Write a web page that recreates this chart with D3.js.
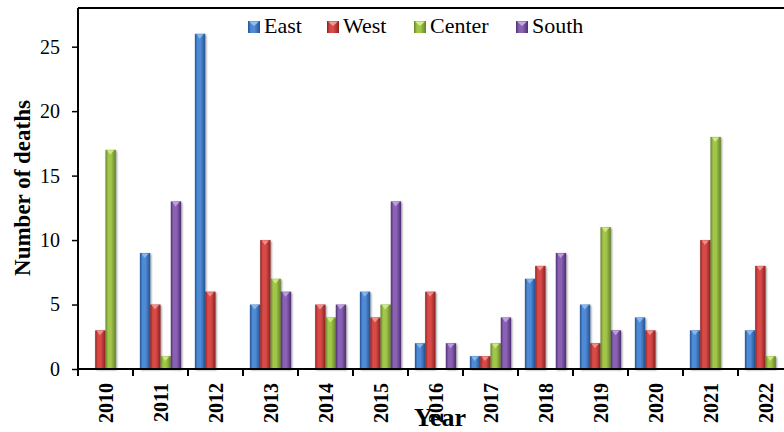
<!DOCTYPE html>
<html>
<head>
<meta charset="utf-8">
<script src="https://cdn.jsdelivr.net/npm/d3@7"></script>
<style>
  html, body { margin: 0; padding: 0; background: #fff; }
  svg { display: block; }
  text { font-family: "Liberation Serif", "Times New Roman", serif; }
</style>
</head>
<body>
<svg id="chart" width="784" height="432"></svg>
<script>
// Deaths per year by region
const years = ["2010","2011","2012","2013","2014","2015","2016","2017","2018","2019","2020","2021","2022"];
const seriesNames = ["East","West","Center","South"];
const east   = [0, 9, 26, 5, 0, 6, 2, 1, 7, 5, 4, 3, 3];
const west   = [3, 5, 6, 10, 5, 4, 6, 1, 8, 2, 3, 10, 8];
const center = [17, 1, 0, 7, 4, 5, 0, 2, 0, 11, 0, 18, 1];
const south  = [0, 13, 0, 6, 5, 13, 2, 4, 9, 3, 0, 0, 0];
const yTicks = [0, 5, 10, 15, 20, 25];

const seriesValues = [east, west, center, south];
const palette = [
  { edge: "#24528f", mid: "#4f8ad6", cap: "#8fc0f2" },
  { edge: "#8c2020", mid: "#d84a47", cap: "#f29a95" },
  { edge: "#63822a", mid: "#a2c648", cap: "#d6ef8c" },
  { edge: "#4d2f73", mid: "#8a62b4", cap: "#c7a8e6" }
];
const serif = "Liberation Serif, Times New Roman, serif";

const svg = d3.select("#chart");
const margin = { left: 78, top: 8, bottom: 63 };
const plotRight = 793;
const plotBottom = 432 - margin.bottom;

const x0 = d3.scaleBand().domain(years).range([margin.left, plotRight]).paddingInner(0).paddingOuter(0);
const x1 = d3.scaleBand().domain(seriesNames).range([0, x0.bandwidth()]).paddingOuter(0.67).paddingInner(0);
const y = d3.scaleLinear().domain([0, 28]).range([plotBottom, margin.top]);

// Gradients that give the bars their rounded look
const defs = svg.append("defs");
palette.forEach((p, i) => {
  const g = defs.append("linearGradient").attr("id", "grad" + i)
    .attr("x1", "0%").attr("x2", "100%").attr("y1", "0%").attr("y2", "0%");
  g.append("stop").attr("offset", "0%").attr("stop-color", p.edge);
  g.append("stop").attr("offset", "25%").attr("stop-color", p.mid);
  g.append("stop").attr("offset", "55%").attr("stop-color", p.mid);
  g.append("stop").attr("offset", "100%").attr("stop-color", p.edge);
});
const shadow = defs.append("filter").attr("id", "shadow").attr("x", "-50%").attr("y", "-10%").attr("width", "200%").attr("height", "120%");
shadow.append("feGaussianBlur").attr("in", "SourceAlpha").attr("stdDeviation", 1.2);
shadow.append("feOffset").attr("dx", 1.2).attr("dy", 0.5).attr("result", "b");
const fm = shadow.append("feComponentTransfer");
fm.append("feFuncA").attr("type", "linear").attr("slope", 0.45);
const merge = shadow.append("feMerge");
merge.append("feMergeNode");
merge.append("feMergeNode").attr("in", "SourceGraphic");

// Plot frame
svg.append("line").attr("x1", margin.left).attr("x2", 784).attr("y1", margin.top).attr("y2", margin.top)
  .attr("stroke", "#000").attr("stroke-width", 2);

// Bars
const barW = x1.bandwidth();
const groups = svg.append("g").selectAll("g").data(years).join("g")
  .attr("transform", d => `translate(${x0(d)},0)`);

seriesNames.forEach((name, si) => {
  const vals = seriesValues[si];
  groups.each(function(yr, yi) {
    const v = vals[yi];
    if (!v) return;
    const g = d3.select(this);
    const bx = x1(name);
    const top = y(v);
    g.append("rect")
      .attr("x", bx).attr("y", top)
      .attr("width", barW).attr("height", y(0) - top)
      .attr("fill", `url(#grad${si})`)
      .attr("filter", "url(#shadow)");
    // bevel cap on top of the bar
    const cx = bx + barW * 0.45;
    g.append("path")
      .attr("d", `M${bx + 1.5},${top + 0.5} L${bx + barW - 1.5},${top + 0.5} L${cx},${top + 5} Z`)
      .attr("fill", palette[si].cap).attr("opacity", 0.85);
  });
});

// Y axis
const yAxis = d3.axisLeft(y).tickValues(yTicks).tickSize(6).tickPadding(12);
const yg = svg.append("g").attr("transform", `translate(${margin.left},0)`).call(yAxis);
yg.attr("font-family", serif);
yg.select(".domain").attr("stroke", "#000").attr("stroke-width", 2)
  .attr("d", `M0,${plotBottom}V${margin.top}`);
yg.selectAll(".tick line").attr("stroke", "#000").attr("stroke-width", 1.5);
yg.selectAll(".tick text").attr("font-size", 20).attr("fill", "#000")
  .attr("font-family", serif);

// X axis: ticks on category boundaries
const xg = svg.append("g").attr("transform", `translate(0,${plotBottom})`);
xg.append("line").attr("x1", margin.left).attr("x2", 784).attr("y1", 0).attr("y2", 0)
  .attr("stroke", "#000").attr("stroke-width", 2);
const bounds = years.map(d => x0(d)).concat([x0(years[years.length - 1]) + x0.bandwidth()]);
xg.selectAll("line.tk").data(bounds).join("line").attr("class", "tk")
  .attr("x1", d => d).attr("x2", d => d).attr("y1", 0).attr("y2", 7)
  .attr("stroke", "#000").attr("stroke-width", 2);
xg.selectAll("text.yl").data(years).join("text").attr("class", "yl")
  .attr("transform", d => `translate(${x0(d) + x0.bandwidth() / 2 + 7},14) rotate(-90)`)
  .attr("text-anchor", "end")
  .attr("font-family", serif)
  .attr("font-size", 20).attr("font-weight", "bold").attr("fill", "#000")
  .text(d => d);

// Axis titles
svg.append("text").attr("transform", "translate(30,188) rotate(-90)")
  .attr("text-anchor", "middle").attr("font-family", serif)
  .attr("font-size", 23).attr("font-weight", "bold")
  .text("Number of deaths");
svg.append("text").attr("x", 440).attr("y", 426)
  .attr("text-anchor", "middle").attr("font-family", serif)
  .attr("font-size", 26).attr("font-weight", "bold")
  .text("Year");

// Legend
const legendX = [248, 327, 414, 516];
const legend = svg.append("g").selectAll("g").data(seriesNames).join("g")
  .attr("transform", (d, i) => `translate(${legendX[i]},21)`);
legend.append("rect").attr("width", 12).attr("height", 12)
  .attr("fill", (d, i) => `url(#grad${i})`);
legend.append("path").attr("d", "M1,0.5 L11,0.5 L6,5 Z")
  .attr("fill", (d, i) => palette[i].cap);
legend.append("text").attr("x", 16).attr("y", 12)
  .attr("font-family", serif)
  .attr("font-size", 22).attr("fill", "#000").text(d => d);
</script>
</body>
</html>
